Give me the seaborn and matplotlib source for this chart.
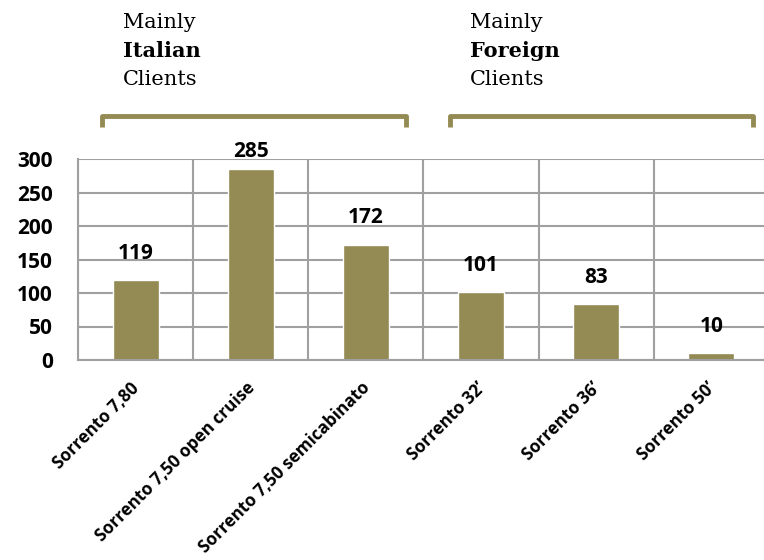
import pandas as pd
import seaborn as sns
import matplotlib.pyplot as plt
from matplotlib.lines import Line2D
from matplotlib.transforms import ScaledTranslation

# chart data
models = ["Sorrento 7,80", "Sorrento 7,50 open cruise", "Sorrento 7,50 semicabinato",
          "Sorrento 32\u2019", "Sorrento 36\u2019", "Sorrento 50\u2019"]
units = [119, 285, 172, 101, 83, 10]
y_ticks = [0, 50, 100, 150, 200, 250, 300]

OLIVE = "#948A54"
GRID = "#A0A0A0"

sns.set_style("white")
plt.rcParams["font.family"] = ["Open Sans", "DejaVu Sans"]
plt.rcParams["text.color"] = "black"
plt.rcParams["xtick.color"] = "black"
plt.rcParams["ytick.color"] = "black"

W, H = 764, 560
fig = plt.figure(figsize=(W / 100, H / 100), dpi=100)
# plot area in pixels: x 78..769, y 159..360
ax = fig.add_axes([78 / W, 1 - 360 / H, (769 - 78) / W, (360 - 159) / H])

df = pd.DataFrame({"model": models, "units": units})
sns.barplot(data=df, x="model", y="units", color=OLIVE, width=0.4, saturation=1, ax=ax)

ax.set_xlim(-0.5, len(models) - 0.5)
ax.set_ylim(0, 300)
ax.set_xlabel("")
ax.set_ylabel("")

# grid: horizontal at y ticks, vertical at category boundaries
ax.set_yticks(y_ticks)
ax.set_xticks([i - 0.5 for i in range(len(models) + 1)], minor=True)
ax.grid(axis="y", color=GRID, lw=1.5)
ax.grid(axis="x", which="minor", color=GRID, lw=1.5)
ax.set_axisbelow(True)
for side in ["top", "right"]:
    ax.spines[side].set_visible(False)
for side in ["left", "bottom"]:
    ax.spines[side].set_color(GRID)
    ax.spines[side].set_linewidth(1.5)

ax.tick_params(axis="y", length=5, width=1.5, color=GRID, pad=13, labelsize=15)
ax.tick_params(axis="x", which="minor", length=5, width=1.5, color=GRID)
ax.tick_params(axis="x", which="major", length=0)
for lab in ax.get_yticklabels():
    lab.set_fontweight("bold")

ax.set_xticks(range(len(models)))
ax.set_xticklabels(models, rotation=45, ha="right", va="top", rotation_mode="anchor",
                   fontsize=12.3, fontweight="bold")
offset = ScaledTranslation(-5 / 100, -14 / 100, fig.dpi_scale_trans)
for lab in ax.get_xticklabels():
    lab.set_transform(lab.get_transform() + offset)

# value labels above bars
for i, v in enumerate(units):
    ax.text(i, min(v + 40, 311), str(v), ha="center", va="center",
            fontsize=15, fontweight="bold", clip_on=False)

# brackets and group captions
def bracket(x0, x1, ytop=116, ybot=127):
    xs = [x0 / W, x0 / W, x1 / W, x1 / W]
    ys = [1 - ybot / H, 1 - ytop / H, 1 - ytop / H, 1 - ybot / H]
    fig.add_artist(Line2D(xs, ys, transform=fig.transFigure, color=OLIVE, lw=3.5,
                          solid_joinstyle="round", solid_capstyle="butt"))

bracket(102, 406)
bracket(450, 753)

def caption(x, word):
    serif = ["DejaVu Serif"]
    fig.text(x / W, 1 - 22 / H, "Mainly", family=serif, fontsize=15, va="center")
    fig.text(x / W, 1 - 51 / H, word, family=serif, fontsize=15, fontweight="bold", va="center")
    fig.text(x / W, 1 - 80 / H, "Clients", family=serif, fontsize=15, va="center")

caption(123, "Italian")
caption(470, "Foreign")

fig.savefig("out.png", dpi=100)
